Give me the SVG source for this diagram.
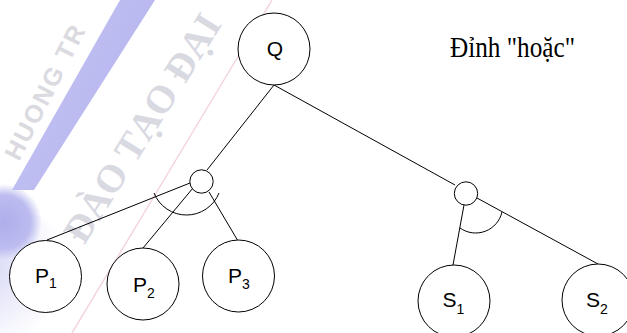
<svg xmlns="http://www.w3.org/2000/svg" width="627" height="333" viewBox="0 0 627 333">
<defs>
<style>
.n{fill:#fff;stroke:#000;stroke-width:1}
.c{fill:none;stroke:#000;stroke-width:1}
.t{font-family:"Liberation Sans",Arial,sans-serif;font-size:21px;fill:#000}
.s{font-size:14px}
.wm{font-family:"Liberation Serif","Times New Roman",serif;fill:#d9d9e2}
</style>
<linearGradient id="bandg" x1="0" y1="0" x2="1" y2="0.6">
<stop offset="0" stop-color="#c6c6f3"/>
<stop offset="1" stop-color="#b4b4ef"/>
</linearGradient>
<radialGradient id="blob" cx="0.5" cy="0.5" r="0.5">
<stop offset="0" stop-color="#aeaeec"/>
<stop offset="0.7" stop-color="#bcbcf0"/>
<stop offset="1" stop-color="#bcbcf0" stop-opacity="0"/>
</radialGradient>
<radialGradient id="fade" cx="0.3" cy="0.4" r="0.6">
<stop offset="0" stop-color="#d6d6f6"/>
<stop offset="1" stop-color="#d6d6f6" stop-opacity="0"/>
</radialGradient>
</defs>
<rect width="627" height="333" fill="#fff"/>
<g id="watermark">
<ellipse cx="10" cy="280" rx="70" ry="70" fill="url(#fade)"/>
<polygon points="120,0 155,0 34,190 12,190" fill="url(#bandg)"/>
<circle cx="4" cy="222" r="38" fill="url(#blob)"/>
<line x1="272" y1="0" x2="72" y2="333" stroke="#f2d6dc" stroke-width="1.5"/>
<text class="wm" x="84" y="246" font-size="39" font-weight="bold" transform="rotate(-58 84 246)">ĐÀO TẠO ĐẠI</text>
<text x="19" y="162" font-family="Liberation Sans,Arial,sans-serif" font-size="25" font-weight="bold" fill="#dadae0" letter-spacing="2" transform="rotate(-63 19 162)">HUONG TR</text>
</g>
<g id="connectors">
<line class="c" x1="274" y1="85" x2="207" y2="170"/>
<line class="c" x1="274" y1="85" x2="455" y2="185"/>
<line class="c" x1="190" y1="183" x2="47" y2="240"/>
<line class="c" x1="193" y1="188" x2="143" y2="248"/>
<line class="c" x1="209" y1="192" x2="238" y2="241"/>
<line class="c" x1="464" y1="205" x2="453" y2="265"/>
<line class="c" x1="477" y1="198" x2="598" y2="264" stroke-width="1.8"/>
<path class="c" d="M154,193 A35,35 0 0 0 219,193"/>
<path class="c" d="M460,228 A27,27 0 0 0 502,212"/>
</g>
<g id="node-Q">
<circle class="n" cx="274" cy="49" r="36"/>
<text class="t" x="275" y="56" text-anchor="middle" font-size="20">Q</text>
</g>
<g id="node-and1">
<circle class="n" cx="201.5" cy="181.5" r="11.7"/>
</g>
<g id="node-and2">
<circle class="n" cx="466" cy="193.5" r="11.7"/>
</g>
<g id="node-P1">
<circle class="n" cx="45.5" cy="276.5" r="36"/>
<text class="t" x="35" y="283">P<tspan class="s" dy="5">1</tspan></text>
</g>
<g id="node-P2">
<circle class="n" cx="143" cy="284" r="36"/>
<text class="t" x="133" y="291.5">P<tspan class="s" dy="6">2</tspan></text>
</g>
<g id="node-P3">
<circle class="n" cx="238.5" cy="276" r="36"/>
<text class="t" x="228" y="283">P<tspan class="s" dy="6">3</tspan></text>
</g>
<g id="node-S1">
<circle class="n" cx="454" cy="301" r="36"/>
<text class="t" x="442.5" y="307">S<tspan class="s" dy="7">1</tspan></text>
</g>
<g id="node-S2">
<circle class="n" cx="598" cy="300" r="36"/>
<text class="t" x="586" y="307">S<tspan class="s" dy="7">2</tspan></text>
</g>
<g id="label">
<text x="450" y="57" font-family="Liberation Serif,'Times New Roman',serif" font-size="29" textLength="125" lengthAdjust="spacingAndGlyphs" fill="#000">Đỉnh "hoặc"</text>
</g>
</svg>
